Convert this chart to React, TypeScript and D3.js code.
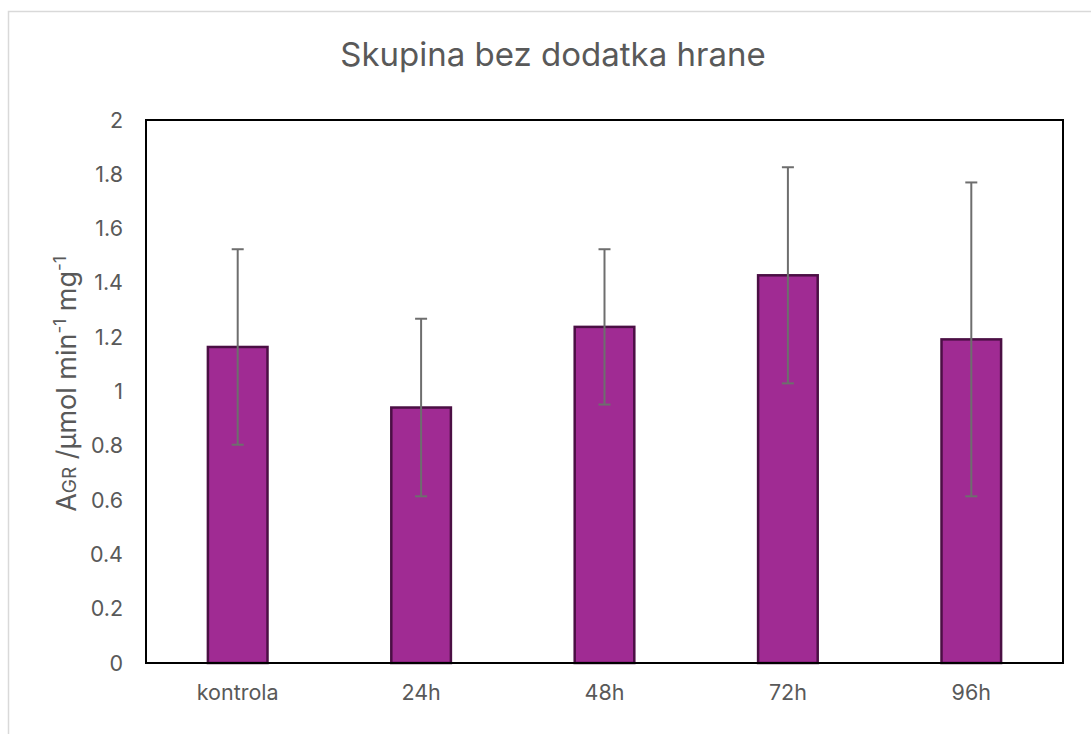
import * as d3 from 'd3';

const categories = ['kontrola', '24h', '48h', '72h', '96h'];
const means = [1.164, 0.941, 1.238, 1.428, 1.192];
const errors = [0.36, 0.327, 0.286, 0.398, 0.578];
const yTicks = [0, 0.2, 0.4, 0.6, 0.8, 1, 1.2, 1.4, 1.6, 1.8, 2];

const W = 1091;
const H = 734;
const margin = { top: 120, right: 28, bottom: 71, left: 146 };
const font = 'Inter, "Open Sans", "Liberation Sans", sans-serif';
const textColor = '#595959';

export default function App() {
  const innerW = W - margin.left - margin.right;
  const innerH = H - margin.top - margin.bottom;

  const x = d3.scaleBand().domain(categories).range([0, innerW]).paddingInner(0.675).paddingOuter(0.3375);
  const y = d3.scaleLinear().domain([0, 2]).range([innerH, 0]);
  const capW = 12;

  return (
    <svg
      width={W}
      height={H}
      style={{ position: 'absolute', left: 0, top: 0, background: '#fff' }}
      fontFamily={font}
    >
      <rect x={8.5} y={11.5} width={W} height={H} fill="#fff" stroke="#d9d9d9" strokeWidth={1.5} />
      <text x={553} y={66} textAnchor="middle" fontSize={33} fill={textColor}>
        Skupina bez dodatka hrane
      </text>
      <g transform={`translate(${margin.left},${margin.top})`}>
        {yTicks.map((t) => (
          <text key={t} x={-23} y={y(t)} dy="0.35em" textAnchor="end" fontSize={21.5} fill={textColor}>
            {d3.format('~g')(t)}
          </text>
        ))}
        {categories.map((c) => (
          <text
            key={c}
            x={(x(c) ?? 0) + x.bandwidth() / 2}
            y={innerH + 37}
            textAnchor="middle"
            fontSize={21.5}
            fill={textColor}
          >
            {c}
          </text>
        ))}
        {categories.map((c, i) => (
          <rect
            key={c}
            x={x(c)}
            y={y(means[i])}
            width={x.bandwidth()}
            height={innerH - y(means[i])}
            fill="#a02b93"
            stroke="#4b0f44"
            strokeWidth={2.5}
          />
        ))}
        {categories.map((c, i) => {
          const cx = (x(c) ?? 0) + x.bandwidth() / 2;
          const top = y(means[i] + errors[i]);
          const bot = y(means[i] - errors[i]);
          return (
            <g key={c} stroke="#6e6e6e" strokeWidth={2}>
              <line x1={cx} x2={cx} y1={top} y2={bot} />
              <line x1={cx - capW / 2} x2={cx + capW / 2} y1={top} y2={top} />
              <line x1={cx - capW / 2} x2={cx + capW / 2} y1={bot} y2={bot} />
            </g>
          );
        })}
        <rect x={0} y={0} width={innerW} height={innerH} fill="none" stroke="#000" strokeWidth={2} />
      </g>
      <text
        transform={`translate(76,384) rotate(-90)`}
        textAnchor="middle"
        fontSize={27}
        fill={textColor}
      >
        A<tspan fontSize={19}>GR</tspan> /µmol min<tspan fontSize={17} dy={-10}>-1</tspan>
        <tspan dy={10}> mg</tspan>
        <tspan fontSize={17} dy={-10}>-1</tspan>
      </text>
    </svg>
  );
}
